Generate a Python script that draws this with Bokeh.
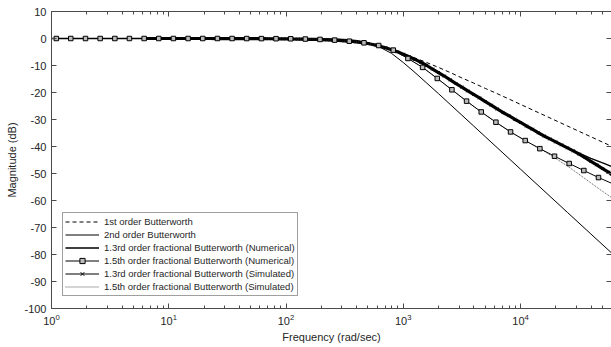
from bokeh.plotting import figure
from bokeh.models import (LinearAxis, Legend, LegendItem, FixedTicker,
                          Range1d, LogTicker, CustomJSTickFormatter)
from bokeh.embed import file_html
from bokeh.resources import INLINE

FONT = "Liberation Sans"

# ---------------- data ----------------
# 1st order Butterworth
f_1st = [1, 10, 100, 158, 251, 398, 501, 631, 794, 1000, 1259, 1585, 1995, 2512,
         3162, 3981, 5012, 6310, 10000, 15849, 25119, 39811, 59700]
db_1st = [0.0, 0.0, -0.12, -0.29, -0.7, -1.5, -2.2, -3.1, -4.3, -5.7, -7.2, -8.9, -10.7, -12.6,
          -14.6, -16.5, -18.5, -20.4, -24.4, -28.4, -32.4, -36.4, -39.9]

# 2nd order Butterworth
f_2nd = [1, 10, 100, 200, 316, 398, 501, 631, 794, 1000, 1259, 1585, 1995, 2512,
         3162, 3981, 5012, 6310, 10000, 15849, 25119, 39811, 59700]
db_2nd = [0.0, 0.0, 0.0, -0.05, -0.3, -0.7, -1.6, -3.2, -5.5, -8.9, -12.6, -16.5, -20.4, -24.4,
          -28.4, -32.4, -36.4, -40.4, -48.4, -56.4, -64.4, -72.4, -79.4]

# 1.3rd order fractional Butterworth (Numerical)
f_13n = [1, 10, 100, 158, 251, 398, 501, 631, 794, 1000, 1259, 1585, 1995, 2512, 3162,
         3981, 5012, 6310, 7943, 10000, 12589, 15849, 19953, 25119, 31623, 39811, 50119, 59700]
db_13n = [0.0, 0.0, -0.15, -0.3, -0.6, -1.25, -1.85, -2.85, -4.15, -5.8, -7.75, -10.0, -12.6, -15.3, -18.0,
          -20.7, -23.4, -26.1, -28.6, -31.1, -33.6, -36.1, -38.3, -40.5, -42.4, -44.4, -46.1, -47.4]

# 1.5th order fractional Butterworth (Numerical)
f_15n = [1.10, 1.46, 1.95, 2.60, 3.47, 4.62, 6.17, 8.22, 10.96, 14.62, 19.50, 26.0, 34.7,
         46.2, 61.7, 82.2, 109.6, 146.2, 195.0, 260.0, 346.7, 462.4, 616.6, 822.2, 1096,
         1462, 1950, 2600, 3467, 4624, 6166, 8222, 10965, 14622, 19498, 26002, 34674,
         46238, 59700]
db_15n = [0.0, 0.0, 0.0, 0.0, 0.0, 0.0, 0.0, 0.0, 0.0, 0.0, 0.0, 0.0, 0.0,
          -0.02, -0.04, -0.07, -0.1, -0.2, -0.35, -0.6, -1.0, -1.6, -2.6, -4.3, -7.4,
          -10.7, -14.8, -19.0, -23.2, -27.2, -31.0, -34.6, -37.8, -40.8, -43.6, -46.3, -48.9,
          -51.5, -53.6]

# 1.3rd order fractional Butterworth (Simulated)
f_13s = [6.31, 7.08, 7.94, 8.91, 10.0, 11.2, 12.6, 14.1, 15.8, 17.8, 20.0, 22.4, 25.1, 28.2,
         31.6, 35.5, 39.8, 44.7, 50.1, 56.2, 63.1, 70.8, 79.4, 89.1, 100, 112, 126, 141, 158,
         178, 200, 224, 251, 282, 316, 355, 398, 447, 501, 562, 631, 708, 794, 891, 1000,
         1122, 1259, 1413, 1585, 1778, 1995, 2239, 2512, 2818, 3162, 3548, 3981, 4467, 5012,
         5623, 6310, 7079, 7943, 8913, 10000, 11220, 12589, 14125, 15849, 17783, 19953,
         22387, 25119, 28184, 31623, 35481, 39811, 44668, 50119, 56234, 59700]
db_13s = [0.0, 0.0, 0.0, 0.0, 0.0, 0.0, 0.0, 0.0, 0.0, 0.0, 0.0, 0.0, -0.01, -0.01,
          -0.02, -0.02, -0.03, -0.04, -0.05, -0.06, -0.07, -0.09, -0.1, -0.12, -0.15, -0.18,
          -0.21, -0.25, -0.3, -0.35, -0.42, -0.5, -0.6, -0.72, -0.86, -1.03, -1.25, -1.5,
          -1.85, -2.3, -2.85, -3.45, -4.15, -4.95, -5.8, -6.75, -7.75, -8.8, -10.0, -11.3,
          -12.6, -13.9, -15.3, -16.7, -18.0, -19.4, -20.7, -22.0, -23.4, -24.7, -26.1, -27.4,
          -28.6, -29.9, -31.1, -32.4, -33.6, -34.9, -36.1, -37.2, -38.3, -39.4, -40.5, -41.6,
          -42.8, -44.1, -45.5, -46.8, -48.2, -49.5, -50.3]

# 1.5th order fractional Butterworth (Simulated)
f_15s = [6.17, 8.22, 10.96, 14.62, 19.50, 26.0, 34.7, 46.2, 61.7, 82.2, 109.6, 146.2, 195.0,
         260.0, 346.7, 462.4, 616.6, 822.2, 1096, 1462, 1950, 2600, 3467, 4624, 6166, 8222,
         10965, 14622, 19953, 26607, 35481, 47863, 59700]
db_15s = [0.0, 0.0, 0.0, 0.0, 0.0, 0.0, 0.0, -0.02, -0.04, -0.07, -0.1, -0.2, -0.35,
          -0.6, -1.0, -1.6, -2.6, -4.3, -7.4, -10.7, -14.8, -19.0, -23.2, -27.2, -31.0, -34.6,
          -37.8, -40.8, -44.4, -48.0, -51.9, -56.0, -58.9]

labels = ["1st order Butterworth",
          "2nd order Butterworth",
          "1.3rd order fractional Butterworth (Numerical)",
          "1.5th order fractional Butterworth (Numerical)",
          "1.3rd order fractional Butterworth (Simulated)",
          "1.5th order fractional Butterworth (Simulated)"]

y_ticks = [-100, -90, -80, -70, -60, -50, -40, -30, -20, -10, 0, 10]
y_tick_labels = ["-100", "-90", "-80", "-70", "-60", "-50", "-40", "-30", "-20", "-10", "0", "10"]
x_min, x_max = 1, 59700
y_min, y_max = -100, 10

# ---------------- figure ----------------
p = figure(width=611, height=347, x_axis_type="log",
           x_range=Range1d(x_min, x_max), y_range=Range1d(y_min, y_max),
           output_backend="svg", toolbar_location=None,
           min_border_left=51, min_border_right=0, min_border_top=11, min_border_bottom=39)
p.grid.visible = False
p.outline_line_color = None
p.background_fill_color = "white"
p.border_fill_color = "white"

AX = "#4a4a4a"
TXT = "#262626"

def style_axis(ax):
    ax.axis_line_color = AX
    ax.axis_line_width = 1
    ax.major_tick_line_color = AX
    ax.minor_tick_line_color = AX
    ax.major_tick_in = 5
    ax.major_tick_out = 0
    ax.minor_tick_in = 3
    ax.minor_tick_out = 0
    ax.major_label_text_font = FONT
    ax.major_label_text_color = TXT
    ax.major_label_text_font_size = "11px"
    ax.axis_label_text_font = FONT
    ax.axis_label_text_font_style = "normal"
    ax.axis_label_text_color = TXT
    ax.axis_label_text_font_size = "11px"

xa = p.xaxis[0]
xa.ticker = LogTicker(mantissas=[1], desired_num_ticks=5, num_minor_ticks=10)
style_axis(xa)
xa.axis_label = "Frequency (rad/sec)"
xa.major_label_standoff = 5
xa.axis_label_standoff = 3

ya = p.yaxis[0]
ya.ticker = FixedTicker(ticks=y_ticks)
ya.major_label_overrides = dict(zip(y_ticks, y_tick_labels))
style_axis(ya)
ya.minor_tick_line_color = None
ya.axis_label = "Magnitude (dB)"
ya.major_label_standoff = 5
ya.axis_label_standoff = 3

blank = CustomJSTickFormatter(code="return '';")

top = LinearAxis(ticker=LogTicker(mantissas=[1], desired_num_ticks=5, num_minor_ticks=10),
                 formatter=blank)
style_axis(top)
top.major_label_standoff = 0
p.add_layout(top, "above")

right = LinearAxis(ticker=FixedTicker(ticks=y_ticks), formatter=blank)
style_axis(right)
right.minor_tick_line_color = None
right.major_label_standoff = 0
p.add_layout(right, "right")

# ---------------- curves ----------------
band = p.line(f_13s, db_13s, line_color="black", line_width=3.2)
r13s_l = p.line(f_13s, db_13s, line_color="black", line_width=1)
r13s_m = p.scatter(f_13s, db_13s, marker="x", size=4, line_color="black", line_width=1)

r13n = p.line(f_13n, db_13n, line_color="black", line_width=1.3)
r1 = p.line(f_1st, db_1st, line_color="black", line_width=1, line_dash="4 3")
r2 = p.line(f_2nd, db_2nd, line_color="black", line_width=1)
r15s = p.line(f_15s, db_15s, line_color="#555555", line_width=1, line_dash="1 1")
r15n_l = p.line(f_15n, db_15n, line_color="black", line_width=1)
r15n_m = p.scatter(f_15n[:-1], db_15n[:-1], marker="square", size=4.5,
                   fill_color="#bbbbbb", line_color="black", line_width=1)

legend = Legend(items=[
    LegendItem(label=labels[0], renderers=[r1]),
    LegendItem(label=labels[1], renderers=[r2]),
    LegendItem(label=labels[2], renderers=[r13n]),
    LegendItem(label=labels[3], renderers=[r15n_l, r15n_m]),
    LegendItem(label=labels[4], renderers=[r13s_l, r13s_m]),
    LegendItem(label=labels[5], renderers=[r15s]),
], location=(11, 12))
legend.label_text_font = FONT
legend.label_text_font_size = "9.5px"
legend.label_text_color = TXT
legend.label_height = 13
legend.glyph_height = 13
legend.glyph_width = 34
legend.label_standoff = 5
legend.spacing = 0
legend.padding = 2
legend.margin = 0
legend.border_line_color = "#404040"
legend.border_line_width = 1
legend.background_fill_color = "white"
legend.background_fill_alpha = 1
p.add_layout(legend)

open("out.html", "w").write(file_html(p, INLINE))
